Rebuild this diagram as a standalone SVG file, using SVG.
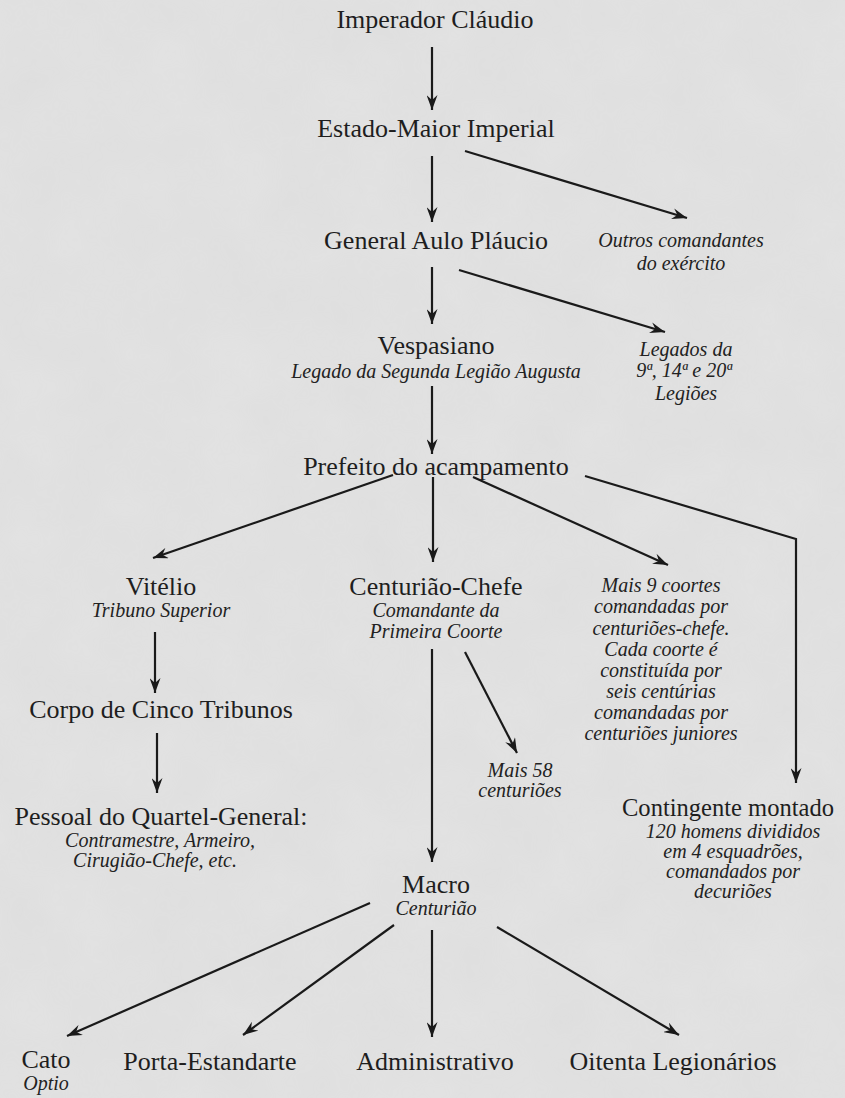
<svg xmlns="http://www.w3.org/2000/svg" width="845" height="1098" viewBox="0 0 845 1098">
<style>
.t{font-family:"Liberation Serif","Times New Roman",serif;font-size:26px;fill:#1e1e1e;text-anchor:middle}
.i{font-family:"Liberation Serif","Times New Roman",serif;font-size:20px;font-style:italic;fill:#222;text-anchor:middle}
.c{fill:none;stroke:#1a1a1a;stroke-width:2.2;marker-end:url(#ah)}
</style>
<defs>
<marker id="ah" markerUnits="userSpaceOnUse" viewBox="0 0 15 11" refX="15" refY="5.5" markerWidth="15" markerHeight="11" orient="auto">
<path d="M0,0 L15,5.5 L0,11 L5,5.5 Z" fill="#1a1a1a"/>
</marker>
<filter id="tex" x="0" y="0" width="100%" height="100%">
<feTurbulence type="fractalNoise" baseFrequency="0.015" numOctaves="4" seed="3"/>
<feColorMatrix type="matrix" values="0 0 0 0 0.5  0 0 0 0 0.5  0 0 0 0 0.5  0 0 0 0.35 0"/>
</filter>
</defs>
<rect width="845" height="1098" fill="#e3e3e3"/>
<rect width="845" height="1098" filter="url(#tex)" opacity="0.35"/>

<g id="connectors">
<line class="c" x1="432" y1="47" x2="432" y2="110"/>
<line class="c" x1="432" y1="156" x2="432" y2="222"/>
<line class="c" x1="465" y1="151" x2="687" y2="218"/>
<line class="c" x1="432" y1="267" x2="432" y2="324"/>
<line class="c" x1="459" y1="270" x2="665" y2="332"/>
<line class="c" x1="432" y1="386" x2="432" y2="454"/>
<line class="c" x1="393" y1="475" x2="153" y2="558"/>
<line class="c" x1="433" y1="477" x2="433" y2="562"/>
<line class="c" x1="473" y1="477" x2="668" y2="565"/>
<polyline class="c" points="585,476 796,539 796,783"/>
<line class="c" x1="155" y1="632" x2="155" y2="693"/>
<line class="c" x1="157" y1="733" x2="157" y2="793"/>
<line class="c" x1="432" y1="649" x2="432" y2="862"/>
<line class="c" x1="465" y1="652" x2="517" y2="753"/>
<line class="c" x1="370" y1="903" x2="67" y2="1036"/>
<line class="c" x1="394" y1="925" x2="243" y2="1035"/>
<line class="c" x1="432" y1="930" x2="432" y2="1037"/>
<line class="c" x1="497" y1="927" x2="679" y2="1035"/>
</g>

<g id="imperador"><text class="t" x="435" y="28">Imperador Cláudio</text></g>
<g id="estado-maior"><text class="t" x="436" y="137">Estado-Maior Imperial</text></g>
<g id="general"><text class="t" x="436" y="249">General Aulo Pláucio</text></g>
<g id="outros"><text class="i" x="681" y="247">Outros comandantes</text><text class="i" x="681" y="270">do exército</text></g>
<g id="vespasiano"><text class="t" x="436" y="354">Vespasiano</text><text class="i" x="436" y="378">Legado da Segunda Legião Augusta</text></g>
<g id="legados"><text class="i" x="686" y="356">Legados da</text><text class="i" x="684" y="377">9ª, 14ª e 20ª</text><text class="i" x="686" y="400">Legiões</text></g>
<g id="prefeito"><text class="t" x="436" y="475">Prefeito do acampamento</text></g>
<g id="vitelio"><text class="t" x="161" y="595">Vitélio</text><text class="i" x="161" y="617">Tribuno Superior</text></g>
<g id="centuriao-chefe"><text class="t" x="436" y="595">Centurião-Chefe</text><text class="i" x="436" y="617">Comandante da</text><text class="i" x="436" y="638">Primeira Coorte</text></g>
<g id="coortes"><text class="i" x="661" y="592">Mais 9 coortes</text><text class="i" x="661" y="613">comandadas por</text><text class="i" x="661" y="635">centuriões-chefe.</text><text class="i" x="661" y="656">Cada coorte é</text><text class="i" x="661" y="677">constituída por</text><text class="i" x="661" y="698">seis centúrias</text><text class="i" x="661" y="719">comandadas por</text><text class="i" x="661" y="740">centuriões juniores</text></g>
<g id="corpo"><text class="t" x="161" y="718">Corpo de Cinco Tribunos</text></g>
<g id="pessoal"><text class="t" x="161" y="825">Pessoal do Quartel-General:</text><text class="i" x="160" y="847">Contramestre, Armeiro,</text><text class="i" x="155" y="867">Cirugião-Chefe, etc.</text></g>
<g id="mais58"><text class="i" x="520" y="777">Mais 58</text><text class="i" x="520" y="797">centuriões</text></g>
<g id="contingente"><text class="t" x="728" y="816" textLength="212" lengthAdjust="spacingAndGlyphs">Contingente montado</text><text class="i" x="733" y="838">120 homens divididos</text><text class="i" x="733" y="858">em 4 esquadrões,</text><text class="i" x="733" y="878">comandados por</text><text class="i" x="733" y="898">decuriões</text></g>
<g id="macro"><text class="t" x="436" y="893">Macro</text><text class="i" x="436" y="915">Centurião</text></g>
<g id="cato"><text class="t" x="46" y="1068">Cato</text><text class="i" x="46" y="1090">Optio</text></g>
<g id="porta"><text class="t" x="210" y="1070">Porta-Estandarte</text></g>
<g id="administrativo"><text class="t" x="435" y="1070">Administrativo</text></g>
<g id="oitenta"><text class="t" x="673" y="1070">Oitenta Legionários</text></g>
</svg>
